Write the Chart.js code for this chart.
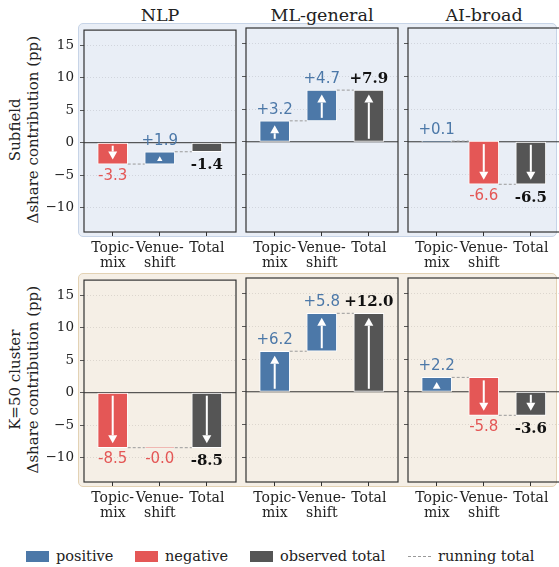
<!DOCTYPE html>
<html>
<head>
<meta charset="utf-8">
<script src="https://cdn.jsdelivr.net/npm/chart.js@4.4.1/dist/chart.umd.min.js"></script>
<style>
  html, body { margin: 0; padding: 0; background: #fff; overflow: hidden; }
  #fig { position: relative; width: 559px; height: 567px; overflow: hidden;
         font-family: 'DejaVu Serif', serif; color: #222; }
  .rowbox { position: absolute; left: 78px; width: 479px; border-radius: 5px; box-sizing: border-box; }
  .coltitle { position: absolute; width: 152px; text-align: center; font-size: 17.5px; line-height: 20px; }
  .ylab { position: absolute; width: 220px; text-align: center; font-size: 15px; line-height: 17.7px;
          transform: rotate(-90deg); }
  .leg { position: absolute; font-size: 14.5px; line-height: 17px; white-space: nowrap; }
  .sw { position: absolute; width: 23px; height: 11px; }
  canvas { position: absolute; }
</style>
</head>
<body>
<div id="fig"></div>
<script>
// ---- data ----
const fields = ['NLP', 'ML-general', 'AI-broad'];
const rowNames = ['Subfield', 'K=50 cluster'];
const steps = [['Topic-', 'mix'], ['Venue-', 'shift'], 'Total'];
const yTicks = [-10, -5, 0, 5, 10, 15];

// contributions in percentage points, one value per field
const subfieldTopic = [-3.3, 3.2, 0.1];
const subfieldVenue = [1.9, 4.7, -6.6];
const subfieldTotal = [-1.4, 7.9, -6.5];
const clusterTopic = [-8.5, 6.2, 2.2];
const clusterVenue = [-0.02, 5.8, -5.8];
const clusterTotal = [-8.5, 12.0, -3.6];

const rows = [
  [subfieldTopic, subfieldVenue, subfieldTotal],
  [clusterTopic, clusterVenue, clusterTotal]
];

const BLUE = '#4c78a8', RED = '#e45756', GRAY = '#555555';

// ---- layout ----
const fig = document.getElementById('fig');
const panelLeft = [84, 246, 408];
const panelTop = [28, 278];
const PW = 152, PH = 204;
const PAD_TOP = 12, X_H = 42;

const boxStyles = [
  { bg: '#e9eef6', border: '#c7d4e7' },
  { bg: '#f5efe6', border: '#e3d2b4' }
];
boxStyles.forEach((s, r) => {
  const d = document.createElement('div');
  d.className = 'rowbox';
  d.style.top = (panelTop[r] - 5) + 'px';
  d.style.height = (PH + 10) + 'px';
  d.style.background = s.bg;
  d.style.border = '1px solid ' + s.border;
  fig.appendChild(d);
});

fields.forEach((f, c) => {
  const t = document.createElement('div');
  t.className = 'coltitle';
  t.textContent = f;
  t.style.left = panelLeft[c] + 'px';
  t.style.top = '5px';
  fig.appendChild(t);
});

rowNames.forEach((name, r) => {
  const d = document.createElement('div');
  d.className = 'ylab';
  d.innerHTML = name + '<br>\u0394share contribution (pp)';
  d.style.left = (25.4 - 110) + 'px';
  d.style.top = (panelTop[r] + PH / 2 - 17.7) + 'px';
  fig.appendChild(d);
});

// ---- drawing helpers ----
const waterfall = {
  id: 'waterfall',
  beforeDatasetsDraw(chart) {
    const { ctx, chartArea, scales: { y } } = chart;
    const y0 = y.getPixelForValue(0);
    ctx.save();
    ctx.strokeStyle = '#333';
    ctx.lineWidth = 1;
    ctx.beginPath();
    ctx.moveTo(chartArea.left, y0);
    ctx.lineTo(chartArea.right, y0);
    ctx.stroke();
    ctx.restore();
  },
  afterDatasetsDraw(chart, args, opts) {
    const { ctx, scales: { y } } = chart;
    const meta = chart.getDatasetMeta(0);
    const ds = chart.data.datasets[0].data;
    const vals = opts.values;
    ctx.save();

    // running total connectors
    const levels = [vals[0], vals[2]];
    ctx.strokeStyle = '#9a9a9a';
    ctx.lineWidth = 1;
    ctx.setLineDash([3, 2]);
    for (let i = 0; i < 2; i++) {
      const a = meta.data[i], b = meta.data[i + 1];
      const py = y.getPixelForValue(levels[i]);
      ctx.beginPath();
      ctx.moveTo(a.x + a.width / 2, py);
      ctx.lineTo(b.x - b.width / 2, py);
      ctx.stroke();
    }
    ctx.setLineDash([]);

    // arrows inside bars
    ctx.fillStyle = '#fff';
    for (let i = 0; i < 3; i++) {
      const v = vals[i];
      if (Math.abs(v) < 1.5) continue;
      const el = meta.data[i];
      const s = y.getPixelForValue(ds[i].y[0]);
      const e = y.getPixelForValue(ds[i].y[1]);
      const dir = e > s ? 1 : -1;
      const tail = s + dir * 3;
      const tip = e - dir * 4.5;
      const len = Math.abs(tip - tail);
      const hl = Math.min(8, len);
      const hw = 9 * hl / 8;
      const neck = tip - dir * hl;
      if (len > hl) ctx.fillRect(el.x - 1, Math.min(tail, neck), 2, Math.abs(neck - tail));
      ctx.beginPath();
      ctx.moveTo(el.x, tip);
      ctx.lineTo(el.x - hw / 2, neck);
      ctx.lineTo(el.x + hw / 2, neck);
      ctx.closePath();
      ctx.fill();
    }

    // value labels
    ctx.textAlign = 'center';
    ctx.textBaseline = 'alphabetic';
    for (let i = 0; i < 3; i++) {
      const v = vals[i];
      const el = meta.data[i];
      const s = y.getPixelForValue(ds[i].y[0]);
      const e = y.getPixelForValue(ds[i].y[1]);
      const top = Math.min(s, e), bot = Math.max(s, e);
      const txt = (v > 0 ? '+' : '') + v.toFixed(1);
      const isTotal = i === 2;
      if (isTotal) {
        ctx.font = 'bold 15px "DejaVu Serif"';
        ctx.fillStyle = '#111';
      } else {
        ctx.font = '15px "DejaVu Sans"';
        ctx.fillStyle = v < 0 ? RED : BLUE;
      }
      if (v >= 0) ctx.fillText(txt, el.x, top - 7);
      else ctx.fillText(txt, el.x, bot + (isTotal ? 17.5 : 15.5));
    }
    ctx.restore();
  },
  afterDraw(chart) {
    const { ctx, chartArea } = chart;
    ctx.save();
    ctx.strokeStyle = '#333';
    ctx.lineWidth = 1.2;
    ctx.strokeRect(chartArea.left, chartArea.top, chartArea.right - chartArea.left, chartArea.bottom - chartArea.top);
    ctx.restore();
  }
};

function makePanel(r, c) {
  const [topicArr, venueArr, totalArr] = rows[r];
  const topic = topicArr[c], venue = venueArr[c], total = totalArr[c];
  const yW = c === 0 ? 50 : 10;
  const cv = document.createElement('canvas');
  const w = yW + PW + 6, h = PAD_TOP + PH + X_H;
  cv.width = w; cv.height = h;
  cv.style.width = w + 'px'; cv.style.height = h + 'px';
  cv.style.left = (panelLeft[c] - yW) + 'px';
  cv.style.top = (panelTop[r] - PAD_TOP) + 'px';
  fig.appendChild(cv);

  const colorOf = (v, tot) => tot ? GRAY : (v < 0 ? RED : BLUE);

  new Chart(cv.getContext('2d'), {
    type: 'bar',
    data: {
      datasets: [{
        data: [
          { x: 0, y: [0, topic] },
          { x: 1, y: [topic, topic + venue] },
          { x: 2, y: [0, total] }
        ],
        backgroundColor: [colorOf(topic), colorOf(venue), colorOf(total, true)],
        borderColor: '#ffffff',
        borderWidth: 1,
        borderSkipped: false,
        barThickness: 30
      }]
    },
    options: {
      responsive: false,
      animation: false,
      layout: { padding: { top: PAD_TOP, right: 6, left: 0, bottom: 0 } },
      plugins: {
        legend: { display: false },
        tooltip: { enabled: false },
        waterfall: { values: [topic, venue, total] }
      },
      scales: {
        x: {
          type: 'linear', min: -0.61, max: 2.62, offset: false,
          grid: { drawOnChartArea: false, drawTicks: true, tickLength: 4, tickColor: '#333', offset: false },
          border: { display: false },
          afterBuildTicks: s => { s.ticks = [0, 1, 2].map(v => ({ value: v })); },
          afterFit: s => { s.height = X_H; },
          ticks: {
            autoSkip: false, maxRotation: 0, minRotation: 0, padding: 5,
            color: '#222',
            font: { family: 'DejaVu Serif', size: 14, lineHeight: 1.07 },
            callback: v => steps[v]
          }
        },
        y: {
          min: -13.8, max: 17.4,
          grid: {
            drawTicks: true, tickLength: 4, tickColor: '#333', lineWidth: 0.8,
            color: ctx => ctx.tick && ctx.tick.value === 0 ? 'rgba(0,0,0,0)' : 'rgba(0,0,0,0.13)'
          },
          border: { display: false, dash: [1, 2] },
          afterBuildTicks: s => { s.ticks = yTicks.map(v => ({ value: v })); },
          afterFit: s => { s.width = yW; },
          ticks: {
            display: c === 0, padding: 6, color: '#222',
            font: { family: 'DejaVu Serif', size: 13.5 },
            callback: v => v < 0 ? '\u2212' + Math.abs(v) : String(v)
          }
        }
      }
    },
    plugins: [waterfall]
  });
}

for (let r = 0; r < 2; r++) for (let c = 0; c < 3; c++) makePanel(r, c);

// ---- legend ----
const legendItems = [
  { kind: 'box', color: BLUE, x: 26, tx: 56, label: 'positive' },
  { kind: 'box', color: RED, x: 135, tx: 165, label: 'negative' },
  { kind: 'box', color: GRAY, x: 250, tx: 280, label: 'observed total' },
  { kind: 'dash', color: '#9a9a9a', x: 408, tx: 438, label: 'running total' }
];
legendItems.forEach(it => {
  const m = document.createElement('div');
  if (it.kind === 'box') {
    m.className = 'sw';
    m.style.left = it.x + 'px';
    m.style.top = '551px';
    m.style.background = it.color;
  } else {
    m.style.position = 'absolute';
    m.style.left = it.x + 'px';
    m.style.top = '556px';
    m.style.width = '23px';
    m.style.borderTop = '1px dashed ' + it.color;
  }
  fig.appendChild(m);
  const t = document.createElement('div');
  t.className = 'leg';
  t.style.left = it.tx + 'px';
  t.style.top = '548px';
  t.textContent = it.label;
  fig.appendChild(t);
});
</script>
</body>
</html>
